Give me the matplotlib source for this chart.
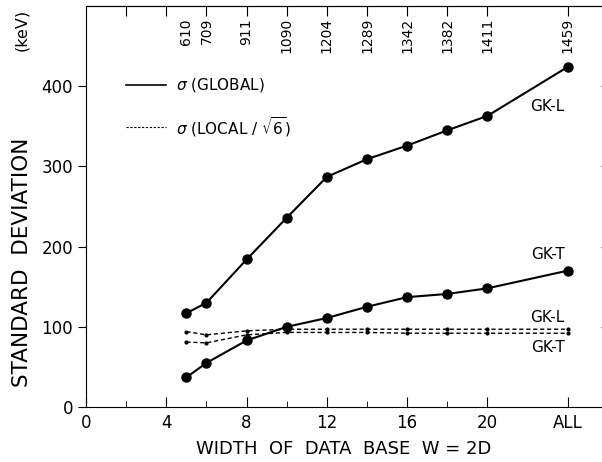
import matplotlib
matplotlib.use("Agg")
import matplotlib.pyplot as plt

# x positions: 5..20 are W values, 24 stands for "ALL"
width = [5, 6, 8, 10, 12, 14, 16, 18, 20, 24]
n_points = ["610", "709", "911", "1090", "1204", "1289", "1342", "1382", "1411", "1459"]

gkl_global = [117, 130, 184, 236, 287, 309, 326, 345, 363, 424]
gkt_global = [37, 55, 83, 100, 111, 125, 137, 141, 148, 170]
gkl_local = [94, 90, 95, 97, 97, 97, 97, 97, 97, 97]
gkt_local = [81, 80, 90, 93, 93, 93, 92, 92, 92, 92]

xticks = [0, 4, 8, 12, 16, 20, 24]
xticklabels = ["0", "4", "8", "12", "16", "20", "ALL"]
xminor = [2, 6, 10, 14, 18]
toptick = [2, 4, 6, 8, 10, 12, 14, 16, 18, 20, 24]

plt.rcParams["font.family"] = ["DejaVu Sans"]

fig = plt.figure(figsize=(6.02, 4.62), dpi=100)
ax = fig.add_axes([0.143, 0.119, 0.855, 0.868])

ax.plot(width, gkl_global, color="black", lw=1.5, marker="o", ms=6.5)
ax.plot(width, gkt_global, color="black", lw=1.5, marker="o", ms=6.5)
ax.plot(width, gkl_local, color="black", lw=1, ls=(0, (3, 2)), marker=".", ms=4)
ax.plot(width, gkt_local, color="black", lw=1, ls=(0, (3, 2)), marker=".", ms=4)

ax.set_xlim(0, 25.65)
ax.set_ylim(0, 500)
ax.set_xticks(xticks)
ax.set_xticklabels(xticklabels)
ax.set_xticks(xminor, minor=True)
ax.set_yticks([0, 100, 200, 300, 400])
ax.tick_params(axis="x", direction="in", length=7, labelsize=12, pad=5)
ax.tick_params(axis="x", which="minor", direction="in", length=4)
ax.tick_params(axis="y", direction="out", length=6, labelsize=12, right=True)
ax.spines["right"].set_visible(False)

# top axis with data-base sizes
top = ax.secondary_xaxis("top")
top.set_xticks(toptick)
top.tick_params(direction="in", length=7, labeltop=False)
for x, lab in zip(width, n_points):
    ax.text(x, 0.97, lab, transform=ax.get_xaxis_transform(), rotation=90,
            ha="center", va="top", fontsize=10)

# legend drawn by hand
ax.plot([2, 4], [401, 401], color="black", lw=1.2)
ax.text(4.5, 401, r"$\sigma$ (GLOBAL)", va="center", fontsize=11)
ax.plot([2, 4], [349, 349], color="black", lw=0.8, ls=(0, (2, 1.5)))
ax.text(4.5, 349, r"$\sigma$ (LOCAL / $\sqrt{6}$)", va="center", fontsize=11)

for y, lab in [(375, "GK-L"), (190, "GK-T"), (112, "GK-L"), (74, "GK-T")]:
    ax.text(23.0, y, lab, ha="center", va="center", fontsize=11)

ax.set_xlabel("WIDTH  OF  DATA  BASE  W = 2D", fontsize=13, labelpad=6)
fig.text(0.036, 0.433, "STANDARD  DEVIATION", rotation=90,
         ha="center", va="center", fontsize=15.5)
fig.text(0.036, 0.935, "(keV)", rotation=90,
         ha="center", va="center", fontsize=11.5)

fig.savefig("out.png", dpi=100)
plt.close(fig)
